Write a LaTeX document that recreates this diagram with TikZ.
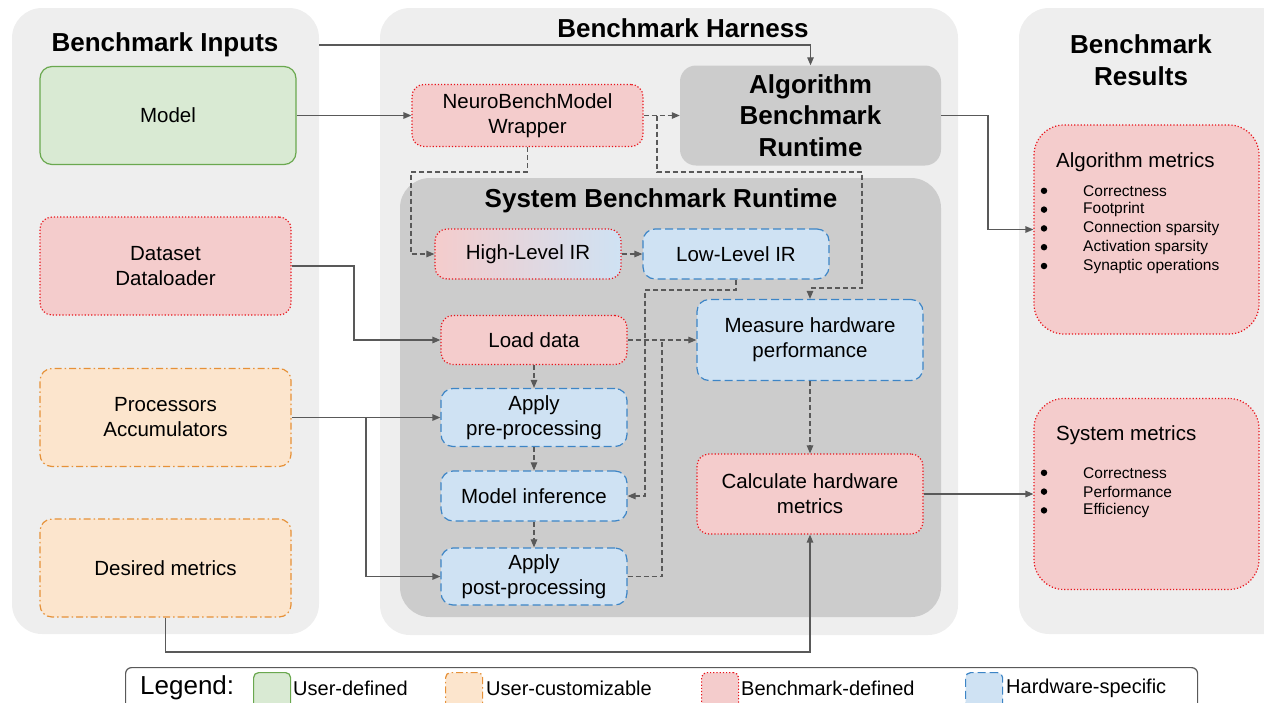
\documentclass[tikz,border=0pt]{standalone}
\usepackage{fontspec}
\setmainfont{Liberation Sans}
\usetikzlibrary{arrows.meta,calc}
\definecolor{panelbg}{HTML}{EEEEEE}
\definecolor{rungray}{HTML}{CCCCCC}
\definecolor{gfill}{HTML}{D9EAD3}
\definecolor{gline}{HTML}{6AA84F}
\definecolor{ofill}{HTML}{FCE5CD}
\definecolor{oline}{HTML}{E69138}
\definecolor{rfill}{HTML}{F4CCCC}
\definecolor{rline}{HTML}{E8141B}
\definecolor{bfill}{HTML}{CFE2F3}
\definecolor{bline}{HTML}{3D85C6}
\definecolor{conn}{HTML}{595959}
\tikzset{
  txt/.style={font=\fontsize{20.5pt}{25pt}\selectfont, align=center, text=black},
  small/.style={font=\fontsize{15.5pt}{19pt}\selectfont, text=black, anchor=west, inner sep=0pt},
  ttl/.style={font=\fontsize{26pt}{31.5pt}\selectfont\bfseries, align=center, text=black},
  box/.style={txt, rounded corners=12pt, inner sep=0pt},
  greenbox/.style={box, fill=gfill, draw=gline, line width=1.2pt},
  orangebox/.style={box, fill=ofill, draw=oline, line width=1.2pt, dash pattern=on 7pt off 3pt on 1.5pt off 3pt},
  redbox/.style={box, fill=rfill, draw=rline, line width=1.2pt, dash pattern=on 1.2pt off 2pt},
  bluebox/.style={box, fill=bfill, draw=bline, line width=1.2pt, dash pattern=on 8pt off 4pt},
  panel/.style={fill=panelbg, rounded corners=30pt, inner sep=0pt},
  runbox/.style={fill=rungray, inner sep=0pt},
  arr/.style={draw=conn, line width=1.3pt, -{Triangle[length=8pt,width=6.5pt]}},
  sline/.style={draw=conn, line width=1.3pt},
  darr/.style={arr, line width=1.1pt, dash pattern=on 5pt off 3pt},
  dline/.style={draw=conn, line width=1.1pt, dash pattern=on 5pt off 3pt},
  bul/.style={circle, fill=black, inner sep=0pt, minimum size=6.5pt},
  swatch/.style={rounded corners=5pt, minimum width=37pt, minimum height=40pt, inner sep=0pt, anchor=north west},
  legtxt/.style={font=\fontsize{20pt}{24pt}\selectfont, anchor=west, inner sep=0pt, text=black}
}
\begin{document}
\begin{tikzpicture}[x=1pt,y=-1pt]
\useasboundingbox (0,0) rectangle (1264,702);
% panels
\node[panel, minimum width=307pt, minimum height=626pt] (pin) at (165.5,321) {};
\node[panel, minimum width=578pt, minimum height=627pt] (phar) at (669,321.5) {};
\node[panel, minimum width=281pt, minimum height=626pt] (pres) at (1159.5,321) {};
\node[runbox, rounded corners=30pt, minimum width=541pt, minimum height=439pt] (psys) at (670.5,397.5) {};
\node[runbox, rounded corners=16pt, minimum width=261pt, minimum height=100pt, ttl] (alg) at (810.5,115.5) {Algorithm\\Benchmark\\Runtime};
% titles
\node[ttl] (tin) at (165,45) {Benchmark Inputs};
\node[ttl] (thar) at (683,28) {Benchmark Harness};
\node[ttl] (tres) at (1141,60) {Benchmark\\Results};
\node[ttl] (tsys) at (661,201) {System Benchmark Runtime};
% inputs
\node[greenbox, minimum width=256pt, minimum height=98pt] (model) at (168,115.5) {Model};
\node[redbox, minimum width=251pt, minimum height=98pt] (data) at (165.5,266) {Dataset\\Dataloader};
\node[orangebox, minimum width=251pt, minimum height=98pt] (proc) at (165.5,417.5) {Processors\\Accumulators};
\node[orangebox, minimum width=251pt, minimum height=98pt] (des) at (165.5,568) {Desired metrics};
% harness
\node[redbox, minimum width=231pt, minimum height=62pt] (wrap) at (527.5,115.5) {NeuroBenchModel\\Wrapper};
\node[redbox, left color=rfill, right color=bfill, minimum width=186pt, minimum height=50pt] (hir) at (528,254) {High-Level IR};
\node[bluebox, minimum width=186pt, minimum height=50pt] (lir) at (736,254) {Low-Level IR};
\node[redbox, minimum width=186pt, minimum height=49pt] (load) at (534,340) {Load data};
\node[bluebox, minimum width=186pt, minimum height=58pt] (pre) at (534,417.5) {Apply\\pre-processing};
\node[bluebox, minimum width=186pt, minimum height=50pt] (inf) at (534,496) {Model inference};
\node[bluebox, minimum width=186pt, minimum height=57pt] (post) at (534,576.5) {Apply\\post-processing};
\node[bluebox, minimum width=226pt, minimum height=81pt] (meas) at (810,340) {Measure hardware\\performance};
\node[redbox, minimum width=226pt, minimum height=80pt] (calc) at (810,494) {Calculate hardware\\metrics};
% results
\node[redbox, rounded corners=30pt, minimum width=225pt, minimum height=209pt] (algm) at (1146.5,229.5) {};
\node[txt, anchor=west, inner sep=0pt] (algmt) at (1056,162) {Algorithm metrics};
\foreach \t [count=\i] in {Correctness,Footprint,Connection sparsity,Activation sparsity,Synaptic operations}{
  \node[bul] (ab\i) at (1044,172+18.8*\i) {};
  \node[small] (ai\i) at (1083,172+18.8*\i) {\t};
}
\node[redbox, rounded corners=30pt, minimum width=225pt, minimum height=191pt] (sysm) at (1146.5,494) {};
\node[txt, anchor=west, inner sep=0pt] (sysmt) at (1056,435) {System metrics};
\foreach \t [count=\i] in {Correctness,Performance,Efficiency}{
  \node[bul] (sb\i) at (1044,454+18.8*\i) {};
  \node[small] (si\i) at (1083,454+18.8*\i) {\t};
}
% legend
\node[draw=conn, line width=1.2pt, fill=white, rounded corners=6pt, minimum width=1072pt, minimum height=60pt, anchor=north west, inner sep=0pt] (leg) at (125,667) {};
\node[font=\fontsize{26pt}{30pt}\selectfont, anchor=west, inner sep=0pt] (legt) at (140,688) {Legend:};
\node[swatch, fill=gfill, draw=gline, line width=1.2pt] (sw1) at (253,672) {};
\node[legtxt] (lt1) at (293,688) {User-defined};
\node[swatch, fill=ofill, draw=oline, line width=1.2pt, dash pattern=on 7pt off 3pt on 1.5pt off 3pt] (sw2) at (445,672) {};
\node[legtxt] (lt2) at (486,688) {User-customizable};
\node[swatch, fill=rfill, draw=rline, line width=1.2pt, dash pattern=on 1.2pt off 2pt] (sw3) at (701,672) {};
\node[legtxt] (lt3) at (741,688) {Benchmark-defined};
\node[swatch, fill=bfill, draw=bline, line width=1.2pt, dash pattern=on 8pt off 4pt] (sw4) at (965,672) {};
\node[legtxt] (lt4) at (1006,688) {Hardware-specific};
% coordinates
\coordinate (j1) at (657,115.5);
\coordinate (j2) at (662,340);
\coordinate (j3) at (366,417.5);
% connectors
\draw[arr] (pin.east |- tin) -| (alg.north);
\draw[arr] (model.east) -- (wrap.west);
\draw[darr] (wrap.east) -- (alg.west);
\draw[darr] (j1) -- (657,172) -| (862,288) -| (meas.north);
\draw[darr] (wrap.south) |- (411,172) |- (hir.west);
\draw[darr] (hir.east) -- (lir.west);
\draw[darr] (lir.south) |- (645,290) |- (inf.east);
\draw[darr] (load.east) -- (meas.west);
\draw[dline] (post.east) -| (j2);
\draw[darr] (load.south) -- (pre.north);
\draw[darr] (pre.south) -- (inf.north);
\draw[darr] (inf.south) -- (post.north);
\draw[darr] (meas.south) -- (calc.north);
\draw[arr] (data.east) -- (354,266) |- (load.west);
\draw[arr] (proc.east) -- (pre.west);
\draw[arr] (j3) |- (post.west);
\draw[arr] (des.south) -- (165.5,652) -| (calc.south);
\draw[arr] (alg.east) -- (988,115.5) |- (algm.west);
\draw[arr] (calc.east) -- (sysm.west);
\end{tikzpicture}
\end{document}
